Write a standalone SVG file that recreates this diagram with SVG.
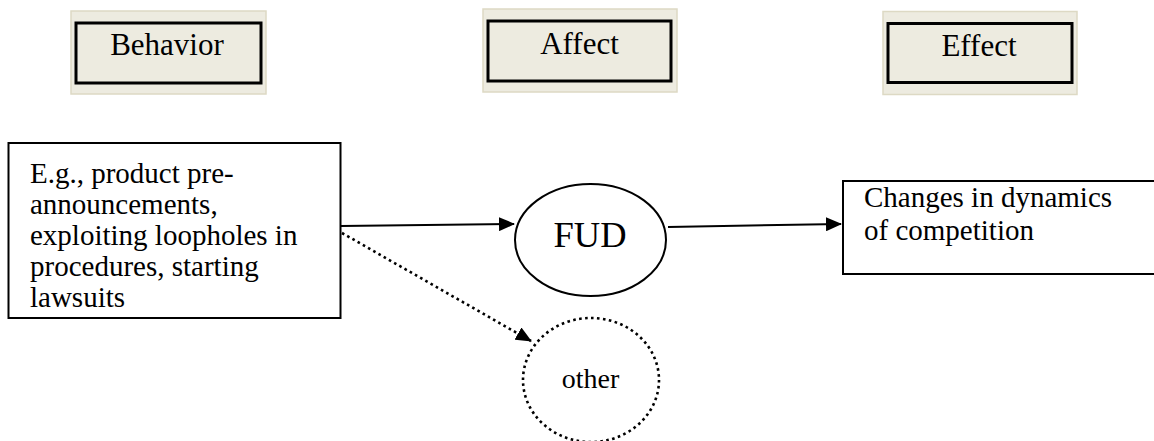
<svg xmlns="http://www.w3.org/2000/svg" width="1154" height="441" viewBox="0 0 1154 441">
<style>
.hdr-bg{fill:#EDEBE0;stroke:#DDD9C4;stroke-width:1.5}
.hdr{fill:#EDEBE0;stroke:#000;stroke-width:3}
.box{fill:#fff;stroke:#000;stroke-width:2}
.t{font-family:"Liberation Serif","Times New Roman",serif;fill:#000}
.h{font-size:31px;text-anchor:middle}
.b{font-size:29px}
.line{stroke:#000;stroke-width:2;fill:none}
.dot{stroke:#000;stroke-width:2.6;fill:none;stroke-dasharray:2.6 3.4}
</style>
<defs>
<marker id="ah" viewBox="0 0 16 14" refX="15" refY="7" markerWidth="16" markerHeight="14" markerUnits="userSpaceOnUse" orient="auto">
<path d="M0,0 L16,7 L0,14 Z" fill="#000"/>
</marker>
</defs>
<g id="behavior">
<rect class="hdr-bg" x="71" y="11" width="195" height="83"/>
<rect class="hdr" x="76" y="23" width="185" height="60"/>
<text class="t h" x="167" y="55">Behavior</text>
</g>
<g id="affect">
<rect class="hdr-bg" x="483" y="9" width="194" height="83"/>
<rect class="hdr" x="488" y="21" width="183" height="60"/>
<text class="t h" x="579.5" y="53.5">Affect</text>
</g>
<g id="effect">
<rect class="hdr-bg" x="883" y="11.5" width="194" height="83"/>
<rect class="hdr" x="888" y="23.5" width="184" height="59"/>
<text class="t h" x="979" y="55.5">Effect</text>
</g>
<g id="examples">
<rect class="box" x="8.5" y="143" width="332" height="175"/>
<text class="t b" x="30" y="183">E.g., product pre-</text>
<text class="t b" x="30" y="214">announcements,</text>
<text class="t b" x="30" y="245">exploiting loopholes in</text>
<text class="t b" x="30" y="276">procedures, starting</text>
<text class="t b" x="30" y="307">lawsuits</text>
</g>
<g id="fud">
<ellipse cx="590.5" cy="240" rx="75.5" ry="56" fill="#fff" stroke="#000" stroke-width="2"/>
<text class="t" x="590" y="247" font-size="36.5" text-anchor="middle">FUD</text>
</g>
<g id="other">
<ellipse cx="591" cy="380" rx="68" ry="62" fill="#fff" class="dot"/>
<text class="t" x="590.5" y="388" font-size="28" text-anchor="middle">other</text>
</g>
<g id="changes">
<rect class="box" x="843" y="181" width="320" height="93"/>
<text class="t b" x="864" y="207">Changes in dynamics</text>
<text class="t b" x="864" y="240">of competition</text>
</g>
<g id="connectors">
<line class="line" x1="341" y1="226" x2="514" y2="224" marker-end="url(#ah)"/>
<line class="line" x1="668" y1="227" x2="841" y2="224" marker-end="url(#ah)"/>
<line class="dot" x1="342" y1="233" x2="531" y2="341" marker-end="url(#ah)"/>
</g>
</svg>
